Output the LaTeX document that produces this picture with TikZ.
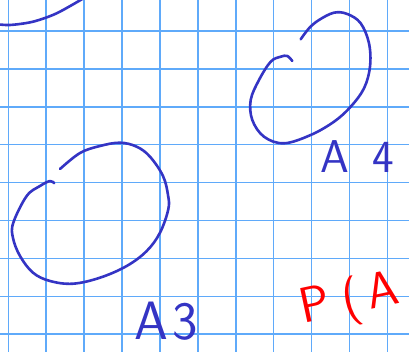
\documentclass[tikz,border=0pt]{standalone}
\definecolor{gridblue}{RGB}{95,170,250}
\definecolor{ink}{RGB}{52,52,196}
\definecolor{redink}{RGB}{255,0,0}
\begin{document}
\begin{tikzpicture}[x=1pt,y=-1pt,
  gridline/.style={gridblue,line width=1.6pt},
  stroke/.style={ink,line width=2.6pt,line cap=round,line join=round},
  hand/.style={inner sep=0pt,font=\sffamily},
]
\useasboundingbox (0,0) rectangle (409,352);
\fill[white] (0,0) rectangle (409,352);
\clip (0,0) rectangle (409,352);
\foreach \i in {0,...,10} \draw[gridline] ({8.3+37.9*\i},-2) -- ({8.3+37.9*\i},354);
\foreach \j in {0,...,8} \draw[gridline] (-2,{31+37.9*\j}) -- (411,{31+37.9*\j});

% top-left arc
\draw[stroke] plot[smooth] coordinates {(-5,24) (10,25) (33,21.7) (56.7,13.3) (84,-2)};

% left loop
\draw[stroke] plot[smooth,tension=0.6] coordinates {(60,169) (80,153) (100,146) (120,142.7) (136.7,146.7) (150,156.7) (163,176) (168,195) (168.3,209.3) (160,232.7) (146.7,251) (126.7,266) (100,277.7) (73,283.7) (50,281) (33,272.7) (20,256) (13,238) (13.3,222.7) (26.7,196) (40,186) (50,181) (54.3,183.3)};

% right loop
\draw[stroke] plot[smooth,tension=0.6] coordinates {(292.3,61) (287.3,56) (280.7,56.7) (270.7,61.7) (259,80) (250.7,100) (252.3,120) (264,136.7) (284,143.3) (310.7,135) (334,121.7) (350.7,106.7) (364,88.3) (370,66.7) (369,43.3) (360.7,23.3) (347.3,14) (334,12.7) (319,20) (309,28.3) (300.7,39.3)};

% labels
\node[hand,ink,anchor=base west,font=\sffamily\fontsize{46}{46}\selectfont] (a4) at (320,173) {A\hspace{24pt}4};
\node[hand,ink,anchor=base west,font=\sffamily\fontsize{54}{54}\selectfont] (a3) at (134,339) {A\hspace{5pt}3};
\node[hand,redink,anchor=base west,rotate=12,font=\sffamily\fontsize{50}{50}\selectfont] (pa) at (303,324) {P\hspace{13pt}(\hspace{8pt}A};
\end{tikzpicture}
\end{document}
